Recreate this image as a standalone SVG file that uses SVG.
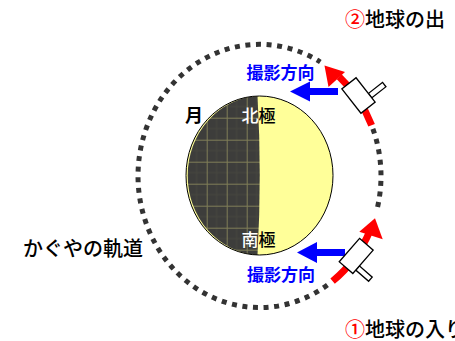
<svg xmlns="http://www.w3.org/2000/svg" width="455" height="341" viewBox="0 0 455 341">
  <style>
    .jp { font-family: "Noto Sans CJK JP", "Noto Sans", sans-serif; }
    .lbl { font-size: 20px; font-weight: 500; fill: #000; }
    .dir { font-size: 17px; font-weight: bold; fill: #0000ff; }
    .pole { font-size: 17px; font-weight: 500; }
    .orbit { fill: none; stroke: #333; stroke-width: 5; stroke-dasharray: 5 5.6; }
    .path { fill: none; stroke: #ff0000; stroke-width: 7; }
    .head { fill: #ff0000; }
    .shoot { fill: #0000ff; }
    .body { fill: #fff; stroke: #000; stroke-width: 1.3; }
  </style>
  <defs>
    <pattern id="grid" patternUnits="userSpaceOnUse" x="6.7" y="7.7" width="20" height="22">
      <rect width="20" height="22" fill="#3d3d3b"/>
      <path d="M10 0V22M0 11H20" stroke="#46463f" stroke-width="1"/>
      <path d="M0.5 0V22M0 0.5H20" stroke="#7f7d57" stroke-width="1"/>
    </pattern>
  </defs>

  <rect width="455" height="341" fill="#fff"/>

  <!-- the Moon: dark far side with grid, lit near side -->
  <g id="moon">
    <ellipse cx="259.5" cy="175.5" rx="73.5" ry="79.5" fill="#ffff99"/>
    <path d="M257.5 96.1 A73.5 79.5 0 0 0 257.5 254.9 Q262 175.5 257.5 96.1 Z" fill="url(#grid)"/>
    <ellipse cx="259.5" cy="175.5" rx="73.5" ry="79.5" fill="none" stroke="#000" stroke-width="1"/>
  </g>

  <g id="connectors">
    <!-- orbit of the spacecraft -->
    <path class="orbit" d="M372.9 128.8 A121.5 131.6 0 0 1 376.3 212.3"/>
    <path class="orbit" d="M327.4 285.1 A121.5 131.6 0 1 1 320.3 62"/>
    <!-- direction of travel -->
    <path class="path" d="M371.6 125.2 A121.5 131.6 0 0 0 339.2 76.7"/>
    <polygon class="head" points="324.5,65.5 345,72 328.5,87"/>
    <path class="path" d="M332.6 281.1 A121.5 131.6 0 0 0 369.6 231.6"/>
    <polygon class="head" points="375,218.3 382.7,239.3 359.3,231.7"/>
    <!-- camera viewing direction -->
    <polygon class="shoot" points="290,91.5 310,81.5 310,88 338,88 338,95 310,95 310,101.5"/>
    <polygon class="shoot" points="297,252.5 317,242 317,249 345,249 345,256 317,256 317,263"/>
  </g>

  <g id="camera-upper" transform="translate(358.5,95.5) rotate(52)">
    <rect class="body" x="4.5" y="-27" width="5.5" height="18"/>
    <rect class="body" x="-15.5" y="-9" width="31" height="18"/>
  </g>
  <g id="camera-lower" transform="translate(356.2,255.9) rotate(-49)">
    <rect class="body" x="-11" y="9" width="5.5" height="17"/>
    <rect class="body" x="-15.5" y="-9" width="31" height="18"/>
  </g>

  <g id="labels" class="jp">
    <text class="lbl" x="345" y="27"><tspan fill="#ff0000">②</tspan>地球の出</text>
    <text class="lbl" x="345" y="337"><tspan fill="#ff0000">①</tspan>地球の入り</text>
    <text class="lbl" x="23" y="256">かぐやの軌道</text>
    <text class="jp" x="185" y="122" font-size="18" font-weight="bold">月</text>
    <text class="pole" x="241.5" y="122"><tspan fill="#fff">北</tspan><tspan fill="#000">極</tspan></text>
    <text class="pole" x="241.5" y="246"><tspan fill="#fff">南</tspan><tspan fill="#000">極</tspan></text>
    <text class="dir" x="246.5" y="79">撮影方向</text>
    <text class="dir" x="247" y="281">撮影方向</text>
  </g>
</svg>
